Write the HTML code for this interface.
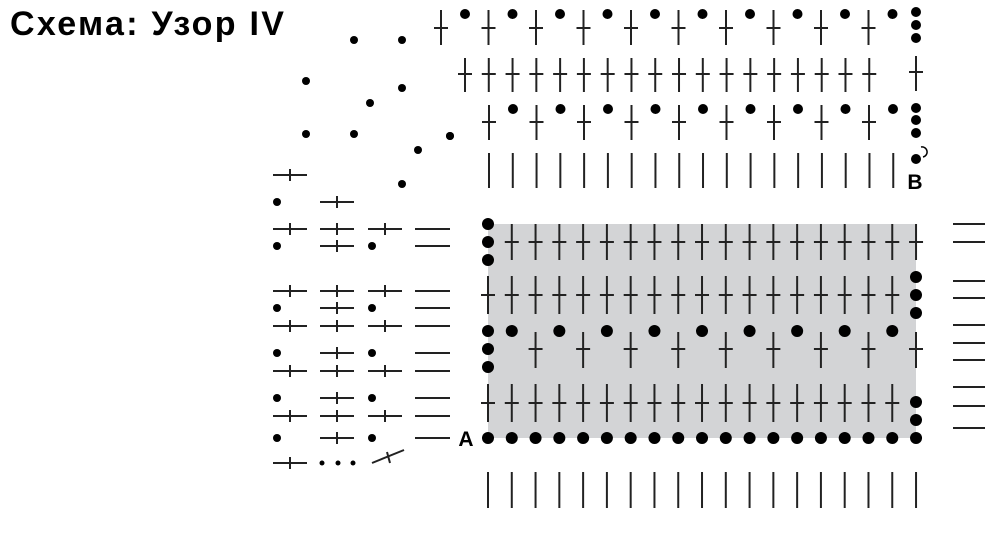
<!DOCTYPE html>
<html><head><meta charset="utf-8"><style>
html,body{margin:0;padding:0;background:#fff;width:1000px;height:534px;overflow:hidden}
.t{position:absolute;left:10px;top:5px;font:bold 34px "Liberation Sans",sans-serif;color:#000;letter-spacing:2.3px}
svg{position:absolute;left:0;top:0}
</style></head><body>
<div class="t">Схема: Узор IV</div>
<svg id="s" width="1000" height="534" xmlns="http://www.w3.org/2000/svg">
<rect x="488" y="224" width="428" height="214" fill="#d3d4d6"/>
<g id="g" stroke="#222" stroke-width="2" fill="#000"></g>
<text x="466" y="446" font-family="Liberation Sans,sans-serif" font-weight="bold" font-size="21" text-anchor="middle">A</text>
<text x="915" y="189" font-family="Liberation Sans,sans-serif" font-weight="bold" font-size="21" text-anchor="middle">B</text>
<path d="M921,147 A5,5 0 1 1 923,157" fill="none" stroke="#000" stroke-width="1.5"/>
</svg>
<script>
var g=document.getElementById('g'),h='';
function L(a,b,c,d){h+='<line x1="'+a+'" y1="'+b+'" x2="'+c+'" y2="'+d+'"/>';}
function D(x,y,r){h+='<circle cx="'+x+'" cy="'+y+'" r="'+r+'" stroke="none"/>';}
function V(x,y1,y2,hy){L(x,y1,x,y2);if(hy!=null)L(x-7,hy,x+7,hy);}
function H(x,y){L(x-17,y,x+17,y);L(x,y-6,x,y+6);}
var s=23.78;function C(i){return 488+(i-1)*s;}
D(488,224,6);D(488,242,6);D(488,260,6);
for(var i=2;i<=19;i++)V(C(i),224,260,242);
for(i=1;i<=18;i++)V(C(i),276,314,295);
D(916,277,6);D(916,295,6);D(916,313,6);
D(488,331,6);D(488,349,6);D(488,367,6);
for(i=2;i<=18;i+=2)D(C(i),331,6);
for(i=3;i<=17;i+=2)V(C(i),332,368,349);
V(916,332,368,349);
for(i=1;i<=18;i++)V(C(i),384,422,403);
D(916,402,6);D(916,420,6);
for(i=1;i<=19;i++)D(C(i),438,6);
for(i=1;i<=19;i++)V(C(i),472,508);
[224,242,281,298,325,343,360,387,406,428].forEach(function(y){L(953,y,985,y);});
for(i=0;i<10;i++){V(441+i*47.5,10,45,28);D(465+i*47.5,14,5);}
D(916,12,5);D(916,25,5);D(916,38,5);
for(i=0;i<18;i++)V(465+i*s,58,92,74);
V(916,56,91,72);
for(i=0;i<9;i++){V(489+i*47.5,105,140,122);D(513+i*47.5,109,5);}
D(450,136,4);D(916,108,5);D(916,120,5);D(916,133,5);
for(i=0;i<18;i++)V(489+i*s,153,188);
D(916,159,5);
[[354,40],[402,40],[306,81],[402,88],[370,103],[306,134],[354,134],[450,136],[418,150],[402,184]].forEach(function(p){D(p[0],p[1],4);});
H(290,175);D(277,202,4);H(337,202);
[229,291,326,371,416].forEach(function(y){H(290,y);H(337,y);H(385,y);L(415,y,450,y);});
[246,308,353,398,438].forEach(function(y){D(277,y,4);H(337,y);D(372,y,4);L(415,y,450,y);});
H(290,463);D(322,463,2.5);D(338,463,2.5);D(353,463,2.5);
L(372,463,404,450);L(387,452,390,463);
g.innerHTML=h;
</script>
</body></html>
